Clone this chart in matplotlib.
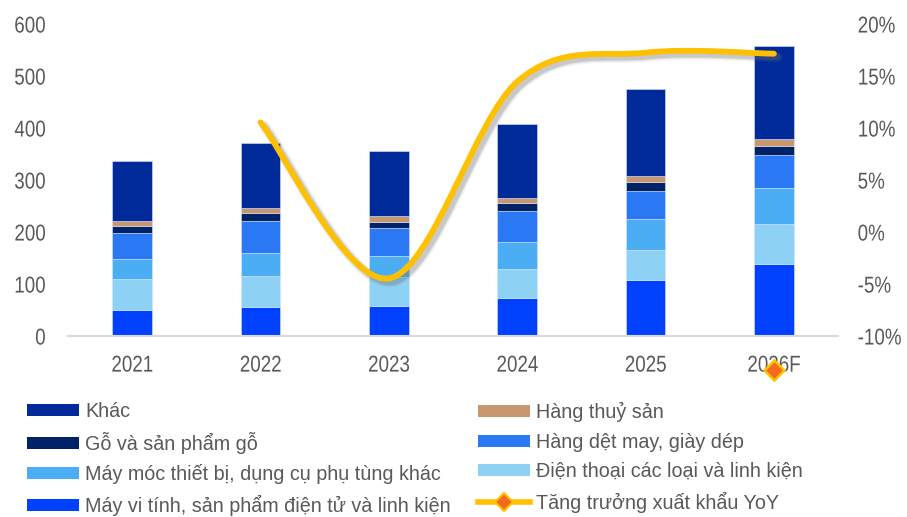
import matplotlib as mpl
import matplotlib.pyplot as plt
import matplotlib.patheffects as pe
from matplotlib.path import Path
from matplotlib.patches import PathPatch, Patch
from matplotlib.lines import Line2D
from matplotlib.transforms import Affine2D, ScaledTranslation
import numpy as np

mpl.use("Agg")

years = ["2021", "2022", "2023", "2024", "2025", "2026F"]

# export value by group (bn USD), bottom -> top
may_vi_tinh = [50, 55, 57, 72, 107, 138]
dien_thoai = [58, 59, 55, 55, 57, 77]
may_moc = [39, 44, 41, 53, 60, 68]
det_may = [50, 62, 53, 59, 54, 65]
go = [13, 15, 13, 16, 17, 17]
thuy_san = [10, 11, 10, 9, 12, 13]
khac = [116, 125, 125, 142, 168, 179]

# YoY export growth (%), from 2022
yoy_years = [1, 2, 3, 4, 5]
yoy = [10.5, -4.5, 14.4, 17.2, 17.1]
stray_marker_x = [5]
stray_marker_y = [-13.3]

series = [
    ("Máy vi tính, sản phẩm điện tử và linh kiện", may_vi_tinh, "#0040FF"),
    ("Điện thoại các loại và linh kiện", dien_thoai, "#8DD2F5"),
    ("Máy móc thiết bị, dụng cụ phụ tùng khác", may_moc, "#4BAEF5"),
    ("Hàng dệt may, giày dép", det_may, "#2B78F5"),
    ("Gỗ và sản phẩm gỗ", go, "#002266"),
    ("Hàng thuỷ sản", thuy_san, "#C8976E"),
    ("Khác", khac, "#00299A"),
]


class Condense(pe.AbstractPathEffect):
    # squeeze text horizontally (no narrow font installed)
    def __init__(self, sx, anchor):
        super().__init__()
        self.sx = sx
        self.anchor = anchor

    def draw_path(self, renderer, gc, tpath, affine, rgbFace=None):
        ext = tpath.get_extents()
        x0 = {"left": ext.x0, "center": (ext.x0 + ext.x1) / 2, "right": ext.x1}[self.anchor]
        squeeze = Affine2D().translate(-x0, 0).scale(self.sx, 1).translate(x0, 0)
        renderer.draw_path(gc, tpath, squeeze + affine, rgbFace)


plt.rcParams["font.family"] = ["Liberation Sans", "DejaVu Sans"]
grey = "#595959"
fs_tick = 16.5
fs_leg = 14.2

fig = plt.figure(figsize=(9.07, 5.17), dpi=100)
ax = fig.add_axes([0.075, 0.351, 0.849, 0.6035])
ax2 = ax.twinx()

x = np.arange(len(years))
bottom = np.zeros(len(years))
handles = {}
for label, vals, color in series:
    ax.bar(x, vals, width=0.31, bottom=bottom, color=color,
           edgecolor="#D6E4FF", linewidth=0.4, zorder=2)
    bottom += np.array(vals)
    handles[label] = Patch(facecolor=color, edgecolor="none")

ax.set_xlim(-0.5, len(years) - 0.5)
ax.set_ylim(0, 600)
ax.set_yticks(range(0, 601, 100))
ax.set_xticks(x)
ax.set_xticklabels(years)
ax2.set_ylim(-10, 20)
ax2.set_yticks(range(-10, 21, 5))
ax2.set_yticklabels([f"{v}%" for v in range(-10, 21, 5)])

for a in (ax, ax2):
    for s in a.spines.values():
        s.set_visible(False)
ax.spines["bottom"].set_visible(True)
ax.spines["bottom"].set_color("#D9D9D9")
ax.spines["bottom"].set_linewidth(1.5)

ax.tick_params(axis="x", length=0, pad=13, labelsize=fs_tick, labelcolor=grey)
ax.tick_params(axis="y", length=0, pad=16, labelsize=fs_tick, labelcolor=grey)
ax2.tick_params(axis="y", length=0, pad=14, labelsize=fs_tick, labelcolor=grey)

for lbl in ax.get_xticklabels():
    lbl.set_path_effects([Condense(0.82, "center")])
for lbl in ax.get_yticklabels():
    lbl.set_path_effects([Condense(0.82, "right")])
for lbl in ax2.get_yticklabels():
    lbl.set_path_effects([Condense(0.82, "left")])

# smoothed growth line (Catmull-Rom style bezier like Excel)
pts = np.column_stack([yoy_years, yoy]).astype(float)
ext = np.vstack([pts[0], pts, pts[-1]])
verts = [tuple(pts[0])]
codes = [Path.MOVETO]
for i in range(len(pts) - 1):
    p0, p1, p2, p3 = ext[i], ext[i + 1], ext[i + 2], ext[i + 3]
    c1 = p1 + (p2 - p0) / 6
    c2 = p2 - (p3 - p1) / 6
    verts += [tuple(c1), tuple(c2), tuple(p2)]
    codes += [Path.CURVE4] * 3
curve_path = Path(verts, codes)

shift = ax2.transData + ScaledTranslation(2.5 / 72, -2.5 / 72, fig.dpi_scale_trans)
for lw, alpha in [(8, 0.08), (6, 0.14), (4.5, 0.22)]:
    ax2.add_patch(PathPatch(curve_path, facecolor="none", edgecolor=(0.45, 0.45, 0.45, alpha),
                            linewidth=lw, capstyle="round", zorder=2.9, transform=shift))
ax2.add_patch(PathPatch(curve_path, facecolor="none", edgecolor="#FFC000",
                        linewidth=4.2, capstyle="round", zorder=3))

ax2.plot(stray_marker_x, stray_marker_y, marker="D", markersize=10,
         markerfacecolor="#F26B1D", markeredgecolor="#FFC000", markeredgewidth=1.8,
         linestyle="none", clip_on=False, zorder=5)

handles["Tăng trưởng xuất khẩu YoY"] = Line2D(
    [], [], color="#FFC000", linewidth=4, marker="D", markersize=9,
    markerfacecolor="#F26B1D", markeredgecolor="#FFC000", markeredgewidth=1.5)

col1 = ["Khác", "Gỗ và sản phẩm gỗ", "Máy móc thiết bị, dụng cụ phụ tùng khác",
        "Máy vi tính, sản phẩm điện tử và linh kiện"]
col2 = ["Hàng thuỷ sản", "Hàng dệt may, giày dép", "Điện thoại các loại và linh kiện",
        "Tăng trưởng xuất khẩu YoY"]
for names, x0 in [(col1, 27 / 907), (col2, 478 / 907)]:
    fig.legend([handles[k] for k in names], names, loc="upper left",
               bbox_to_anchor=(x0, 0.222), ncol=1, frameon=False,
               fontsize=fs_leg, labelcolor=grey, handlelength=2.65,
               handleheight=0.56, handletextpad=0.3,
               labelspacing=0.53, borderaxespad=0, borderpad=0)

fig.savefig("out.png", dpi=100)
plt.close()
